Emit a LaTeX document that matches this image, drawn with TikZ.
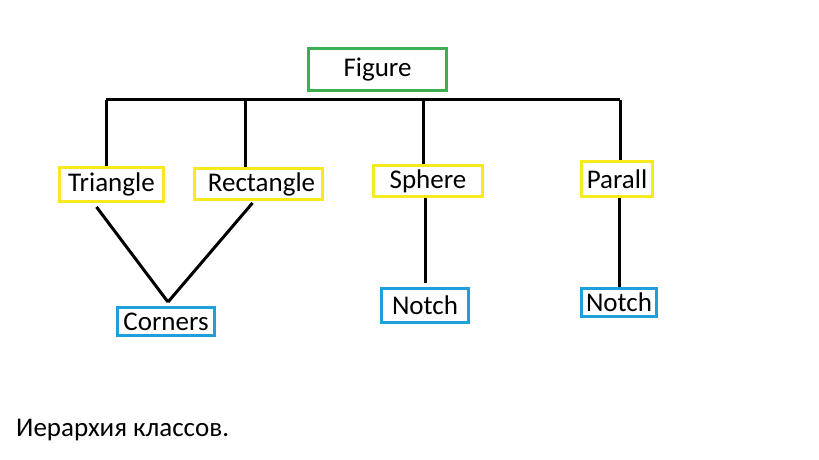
\documentclass[tikz,border=0pt]{standalone}
\usepackage{fontspec}
\setmainfont{Carlito}
\usetikzlibrary{positioning}
\definecolor{figgreen}{RGB}{60,176,80}
\definecolor{subyellow}{RGB}{246,234,30}
\definecolor{partblue}{RGB}{32,160,218}

\begin{document}
\begin{tikzpicture}[x=1pt,y=1pt,
    box/.style={draw,line width=3pt,inner sep=0pt,font=\fontsize{27}{32}\selectfont},
    top/.style={box,draw=figgreen},
    sub/.style={box,draw=subyellow},
    part/.style={box,draw=partblue},
    link/.style={line width=3pt}]
                    \useasboundingbox (0,0) rectangle (819,460);
                    % root
                    \node[top,minimum width=138pt,minimum height=42pt] (fig) at (377.5,390.5) {Figure};
                    % second row
                    \node[sub,minimum width=104pt,minimum height=34pt] (tri) at (111.5,275.5) {Triangle};
                    \node[sub,minimum width=128pt,minimum height=31pt] (rect) at (258.5,276) {\hspace{6pt}Rectangle};
                    \node[sub,minimum width=109pt,minimum height=31pt] (sph) at (428,279) {Sphere};
                    \node[sub,minimum width=71pt,minimum height=35pt] (par) at (617,281) {Parall};
                    % third row
                    \node[part,minimum width=97pt,minimum height=28pt] (cor) at (166,138.5) {Corners};
                    \node[part,minimum width=87pt,minimum height=34pt] (notch1) at (425,154.5) {Notch};
                    \node[part,minimum width=75pt,minimum height=28pt] (notch2) at (619,157.5) {Notch};
                    % bus under Figure
                    \coordinate (b1) at (106,360);
                    \coordinate (b2) at (245,360);
                    \coordinate (b3) at (423,360);
                    \coordinate (b4) at (620,360);
                    \draw[link] (b1) -- (b4);
                    \draw[link] (b1) -- (b1 |- tri.north);
                    \draw[link] (b2) -- (b2 |- rect.north);
                    \draw[link] (b3) -- (b3 |- sph.north);
                    \draw[link] (b4) -- (b4 |- par.north);
                    % lower links
                    \coordinate (join) at ([xshift=2pt,yshift=4pt]cor.north);
                    \draw[link] ([xshift=-15pt,yshift=-4pt]tri.south) -- (join);
                    \draw[link] ([xshift=-6pt,yshift=-2pt]rect.south) -- (join);
                    \draw[link,shorten >=4pt] ([xshift=-3pt]sph.south) -- (notch1.north);
                    \draw[link] ([xshift=2pt]par.south) -- ([xshift=0pt]notch2.north);
                    % caption
                    \node[anchor=west,inner sep=0pt,font=\fontsize{27}{32}\selectfont] (caption) at (16,30) {Иерархия классов.};
                \end{tikzpicture}
\end{document}
